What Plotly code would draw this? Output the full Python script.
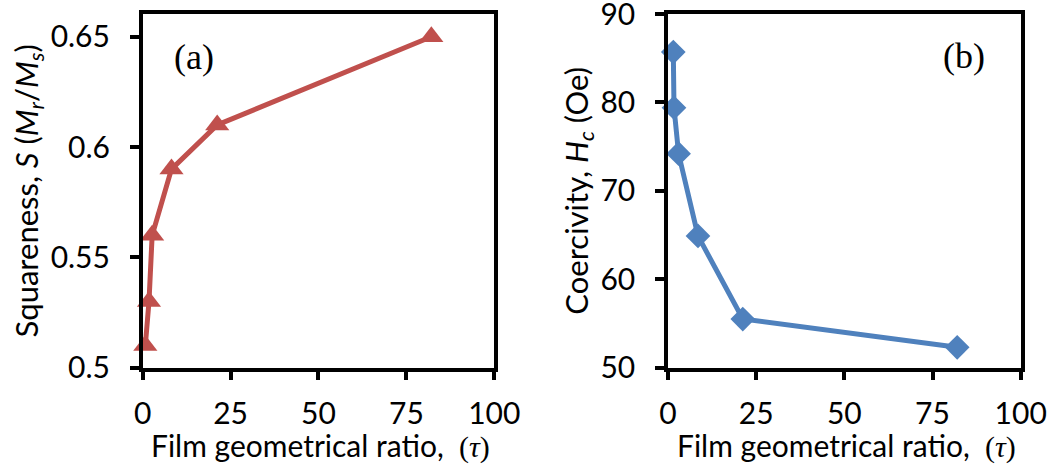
import plotly.graph_objects as go

# Panel (a): squareness vs film geometrical ratio
tau_a = [0.75, 1.8, 2.7, 8.2, 21.2, 82.1]
squareness = [0.51, 0.53, 0.56, 0.59, 0.61, 0.65]

# Panel (b): coercivity vs film geometrical ratio
tau_b = [1.5, 1.7, 3.0, 8.5, 21.2, 82.0]
coercivity = [85.7, 79.4, 74.2, 64.9, 55.5, 52.3]

x_ticks = [0, 25, 50, 75, 100]
ya_ticks = [0.5, 0.55, 0.6, 0.65]
ya_labels = ["0.5", "0.55", "0.6", "0.65"]
yb_ticks = [50, 60, 70, 80, 90]

RED = "#C0504D"
BLUE = "#4F81BD"
FONT = "Lato, Carlito, Calibri, sans-serif"

fig = go.Figure()
fig.add_trace(go.Scatter(
    x=tau_a, y=squareness, mode="lines+markers", xaxis="x", yaxis="y",
    line=dict(color=RED, width=5),
    marker=dict(symbol="triangle-up", size=21, color=RED),
    showlegend=False, cliponaxis=False))
fig.add_trace(go.Scatter(
    x=tau_b, y=coercivity, mode="lines+markers", xaxis="x2", yaxis="y2",
    line=dict(color=BLUE, width=5),
    marker=dict(symbol="diamond", size=19, color=BLUE),
    showlegend=False, cliponaxis=False))

axis_common = dict(
    showline=True, linecolor="black", linewidth=3.5, mirror=True,
    ticks="outside", ticklen=9, tickwidth=3.5, tickcolor="black",
    showgrid=False, zeroline=False, automargin=False,
    ticklabeloverflow="allow",
    tickfont=dict(family=FONT, size=30, color="black"),
)
TITLE_FONT = dict(family=FONT, size=30, color="black")
YTITLE_FONT = dict(family=FONT, size=31, color="black")
xt = "Film geometrical ratio,  <span style='font-family:Liberation Serif'>(<i>τ</i>)</span>"

XA_DOM = [0.136, 0.4712]
XB_DOM = [0.6368, 0.973]

fig.update_layout(
    width=1049, height=470,
    margin=dict(l=0, r=0, t=0, b=0),
    paper_bgcolor="white", plot_bgcolor="white",
    xaxis=dict(domain=XA_DOM, range=[0, 100], tickvals=x_ticks,
               anchor="y", ticklabelstandoff=8, **axis_common),
    yaxis=dict(domain=[0.2177, 0.9702], range=[0.5, 0.6603], tickvals=ya_ticks,
               ticktext=ya_labels, anchor="x", ticklabelstandoff=14,
               title=dict(text="Squareness, <i>S</i> (<i>M</i><sub><i>r</i></sub>/<i>M</i><sub><i>s</i></sub>)",
                          font=YTITLE_FONT, standoff=4),
               **axis_common),
    xaxis2=dict(domain=XB_DOM, range=[0, 100], tickvals=x_ticks,
                anchor="y2", ticklabelstandoff=8, **axis_common),
    yaxis2=dict(domain=[0.2177, 0.9702], range=[50, 90], tickvals=yb_ticks,
                anchor="x2", ticklabelstandoff=14,
                title=dict(text="Coercivity, <i>H</i><sub><i>c</i></sub> (Oe)",
                           font=YTITLE_FONT, standoff=4),
                **axis_common),
    annotations=[
        dict(text="(a)", xref="x", yref="y", x=14.5, y=0.641, showarrow=False,
             font=dict(family="Liberation Serif", size=36, color="black")),
        dict(text="(b)", xref="x2", yref="y2", x=84, y=85.2, showarrow=False,
             font=dict(family="Liberation Serif", size=36, color="black")),
        dict(text=xt, xref="paper", yref="paper", x=(XA_DOM[0] + XA_DOM[1]) / 2 + 0.002,
             y=0.053, xanchor="center", yanchor="middle", showarrow=False,
             font=TITLE_FONT),
        dict(text=xt, xref="paper", yref="paper", x=(XB_DOM[0] + XB_DOM[1]) / 2 + 0.002,
             y=0.053, xanchor="center", yanchor="middle", showarrow=False,
             font=TITLE_FONT),
    ],
)

fig.write_html("out.html", config={"displayModeBar": False},
               post_script="document.body.style.margin='0';")
